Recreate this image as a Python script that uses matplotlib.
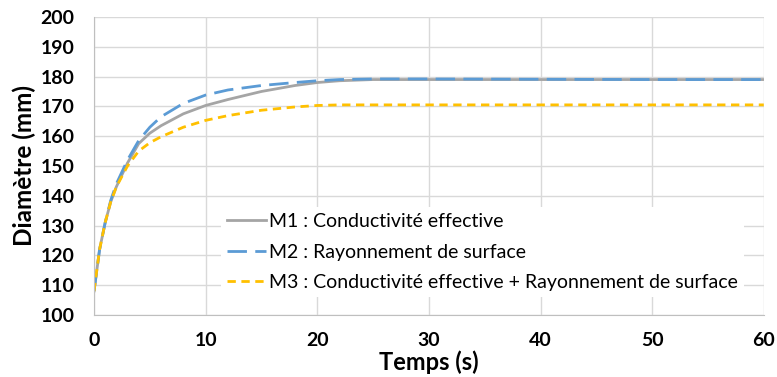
import matplotlib
matplotlib.use('Agg')
import matplotlib.pyplot as plt

plt.rcParams['font.family'] = ['Lato', 'DejaVu Sans']

# values
temps = [0, 0.5, 1, 1.5, 2, 3, 4, 5, 6, 8, 10, 12, 15, 18, 20, 22, 25, 30, 40, 50, 60]
m1 = [108, 122, 131, 138, 143, 151, 157.5, 161, 163.5, 167.5, 170.3, 172.3, 175, 177, 178, 178.6, 179,
      179, 179, 179, 179]
m2 = [108, 122, 131, 138.5, 144, 152, 158.5, 163, 166.5, 171, 173.8, 175.5, 177, 178, 178.6, 179, 179.2,
      179.2, 179.1, 179, 179]
m3 = [108, 122, 131, 138, 143, 150, 155, 157.8, 159.8, 163, 165.3, 166.9, 168.7, 169.8, 170.3, 170.5,
      170.5, 170.5, 170.5, 170.5, 170.5]
labels = ['M1 : Conductivité effective',
          'M2 : Rayonnement de surface',
          'M3 : Conductivité effective + Rayonnement de surface']
x_ticks = [0, 10, 20, 30, 40, 50, 60]
y_ticks = [100, 110, 120, 130, 140, 150, 160, 170, 180, 190, 200]

fig = plt.figure(figsize=(7.77, 3.77), dpi=100)
ax = fig.add_axes([0.121, 0.1645, 0.862, 0.7905])

ax.plot(temps, m1, color='#A5A5A5', lw=2.0, label=labels[0])
ax.plot(temps, m2, color='#5B9BD5', lw=2.0, dashes=(7, 3), label=labels[1])
ax.plot(temps, m3, color='#FFC000', lw=2.0, dashes=(3, 2), label=labels[2])

ax.set_xlim(0, 60)
ax.set_ylim(100, 200)
ax.set_xticks(x_ticks)
ax.set_yticks(y_ticks)
ax.grid(True, color='#D9D9D9', lw=1.0)
ax.set_axisbelow(True)
for s in ['top', 'right']:
    ax.spines[s].set_visible(False)
for s in ['left', 'bottom']:
    ax.spines[s].set_color('#BFBFBF')
ax.tick_params(length=0, labelsize=14)
ax.tick_params(axis='x', pad=12)
ax.tick_params(axis='y', pad=14)
for t in ax.get_xticklabels() + ax.get_yticklabels():
    t.set_fontweight('bold')

ax.set_xlabel('Temps (s)', fontsize=17, fontweight='bold', labelpad=1)
ax.set_ylabel('Diamètre (mm)', fontsize=17.5, fontweight='bold', labelpad=3)

leg = ax.legend(loc='lower left', bbox_to_anchor=(0.19, 0.06), fontsize=14, frameon=True,
                handlelength=2.0, handletextpad=0.15, borderpad=0.3, labelspacing=0.7,
                borderaxespad=0)
leg.get_frame().set_edgecolor('none')
leg.get_frame().set_facecolor('white')
leg.get_frame().set_alpha(1)

fig.savefig('out.png', dpi=100)
